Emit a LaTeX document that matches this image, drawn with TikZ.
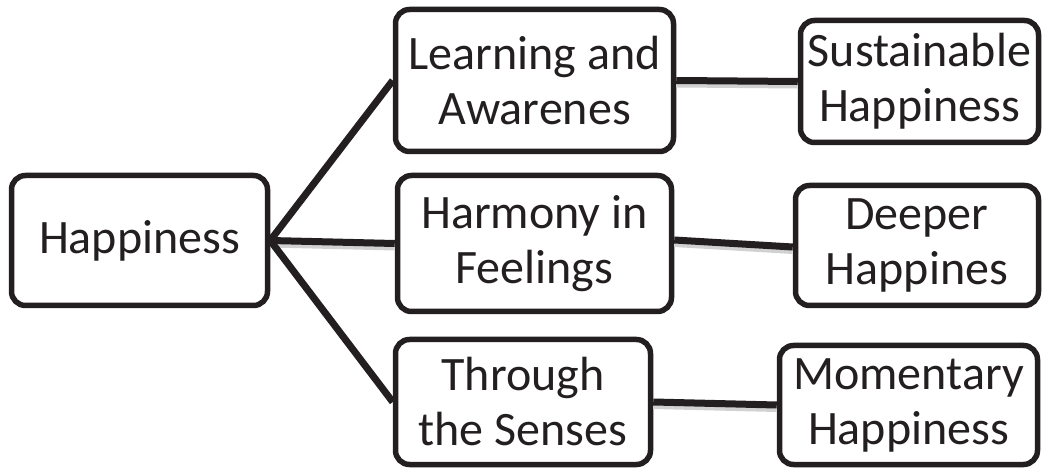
\documentclass[tikz,border=0pt]{standalone}
\usepackage{fontspec}
\setmainfont{Carlito}
\definecolor{ink}{HTML}{231F20}
\begin{document}
\begin{tikzpicture}[x=1pt,y=-1pt,
  box/.style={draw=ink, line width=5.5pt, rounded corners=14pt, fill=white,
    align=center, text=ink, inner sep=0pt,
    font=\fontsize{48}{55}\selectfont},
  connector/.style={draw=ink, line width=7pt},
  connshade/.style={draw=black!18, line width=6pt}]
\useasboundingbox (0,0) rectangle (1045,470);

% root and branch boxes (centres and sizes in pixels)
\node[box, minimum width=256pt, minimum height=130pt] (root) at (139.5,240.5) {Happiness};
\node[box, minimum width=278pt, minimum height=142pt] (learn) at (534.5,80.5) {Learning and\\Awarenes};
\node[box, minimum width=274pt, minimum height=136pt] (harm) at (534.5,243.5) {Harmony in\\Feelings};
\node[box, minimum width=255pt, minimum height=125pt] (sense) at (523,402) {Through\\the Senses};
\node[box, minimum width=238pt, minimum height=122pt] (sust) at (919.5,81.5) {Sustainable\\Happiness};
\node[box, minimum width=243pt, minimum height=120pt] (deep) at (917,245.5) {Deeper\\Happines};
\node[box, minimum width=258pt, minimum height=119pt] (mom) at (908.5,405) {Momentary\\Happiness};

% soft shading under the horizontal connectors
\draw[connshade] ([yshift=-4pt]root.east) -- ([yshift=-4pt]harm.west);
\draw[connshade] ([yshift=-4pt]learn.east) -- ([yshift=-4pt]sust.west);
\draw[connshade] ([yshift=-0.5pt]harm.east) -- ([yshift=-5.5pt]deep.west);
\draw[connshade] ([yshift=-4pt]sense.east) -- ([yshift=-4pt]mom.west);

% connectors
\draw[connector] (root.east) -- (learn.west);
\draw[connector] (root.east) -- (harm.west);
\draw[connector] (root.east) -- (sense.west);
\draw[connector] (learn.east) -- (sust.west);
\draw[connector] ([yshift=3.5pt]harm.east) -- ([yshift=-1.5pt]deep.west);
\draw[connector] (sense.east) -- (mom.west);
\end{tikzpicture}
\end{document}
